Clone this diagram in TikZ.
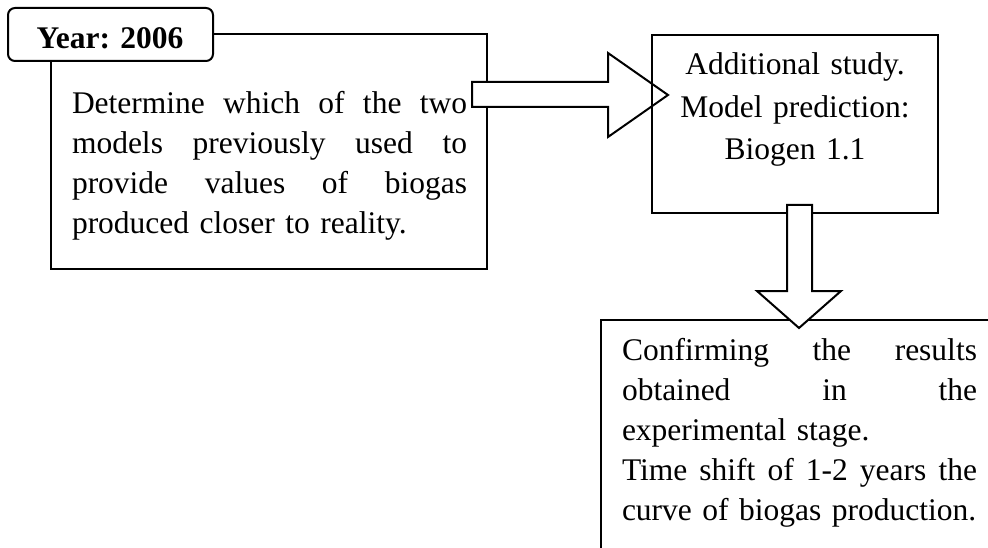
\documentclass[tikz,border=0pt]{standalone}
\usepackage{fontspec}
\setmainfont{Liberation Serif}
\usepackage{tikz}
\newcommand{\fullline}[2]{\makebox[#1][s]{\spaceskip=.25em plus 1fil\relax #2}}

\begin{document}
\begin{tikzpicture}[x=1pt,y=-1pt,
  every node/.style={inner sep=0pt,outer sep=0pt},
  box/.style={draw,line width=2pt,anchor=north west},
  tab/.style={draw,line width=2pt,fill=white,rounded corners=7pt},
  blockarrow/.style={draw,line width=2pt,fill=white,line join=miter},
  txt/.style={anchor=base west,align=left,font=\fontsize{31.5}{40}\selectfont},
  ctxt/.style={anchor=base,align=center,font=\fontsize{31.5}{42.5}\selectfont}]
  \clip (0,0) rectangle (988,548);
  \node[box,minimum width=436pt,minimum height=235pt] (1) at (51,34){};
  \node[tab,minimum width=205pt,minimum height=53pt] (0) at (110.5,34.5){};
  \node[anchor=base,font=\fontsize{31.5}{40}\selectfont\bfseries] (0t) at (110,49){Year: 2006};
  \draw[blockarrow] (472,82)--(608,82)--(608,53)--(668,95)--(608,137)--(608,107)--(472,107)--cycle;
  \node[box,minimum width=286pt,minimum height=178pt] (2) at (652,35){};
  \node[box,minimum width=420pt,minimum height=260pt] (3) at (601,320){};
  \draw[blockarrow] (787,205)--(812,205)--(812,291)--(841,291)--(799,328)--(757,291)--(787,291)--cycle;
  \node[txt,text width=395pt] (1t) at (72,114){%
    \fullline{395pt}{Determine which of the two}\\
    \fullline{395pt}{models previously used to}\\
    \fullline{395pt}{provide values of biogas}\\
    produced closer to reality.};
  \node[ctxt,text width=280pt] (2t) at (795,75){Additional study.\\ Model prediction:\\ Biogen 1.1};
  \node[txt,text width=355pt] (3t) at (622,360){%
    \fullline{355pt}{Confirming the results}\\
    \fullline{355pt}{obtained in the}\\
    experimental stage.\\
    \fullline{355pt}{Time shift of 1-2 years the}\\
    curve of biogas production.};
\end{tikzpicture}
\end{document}
